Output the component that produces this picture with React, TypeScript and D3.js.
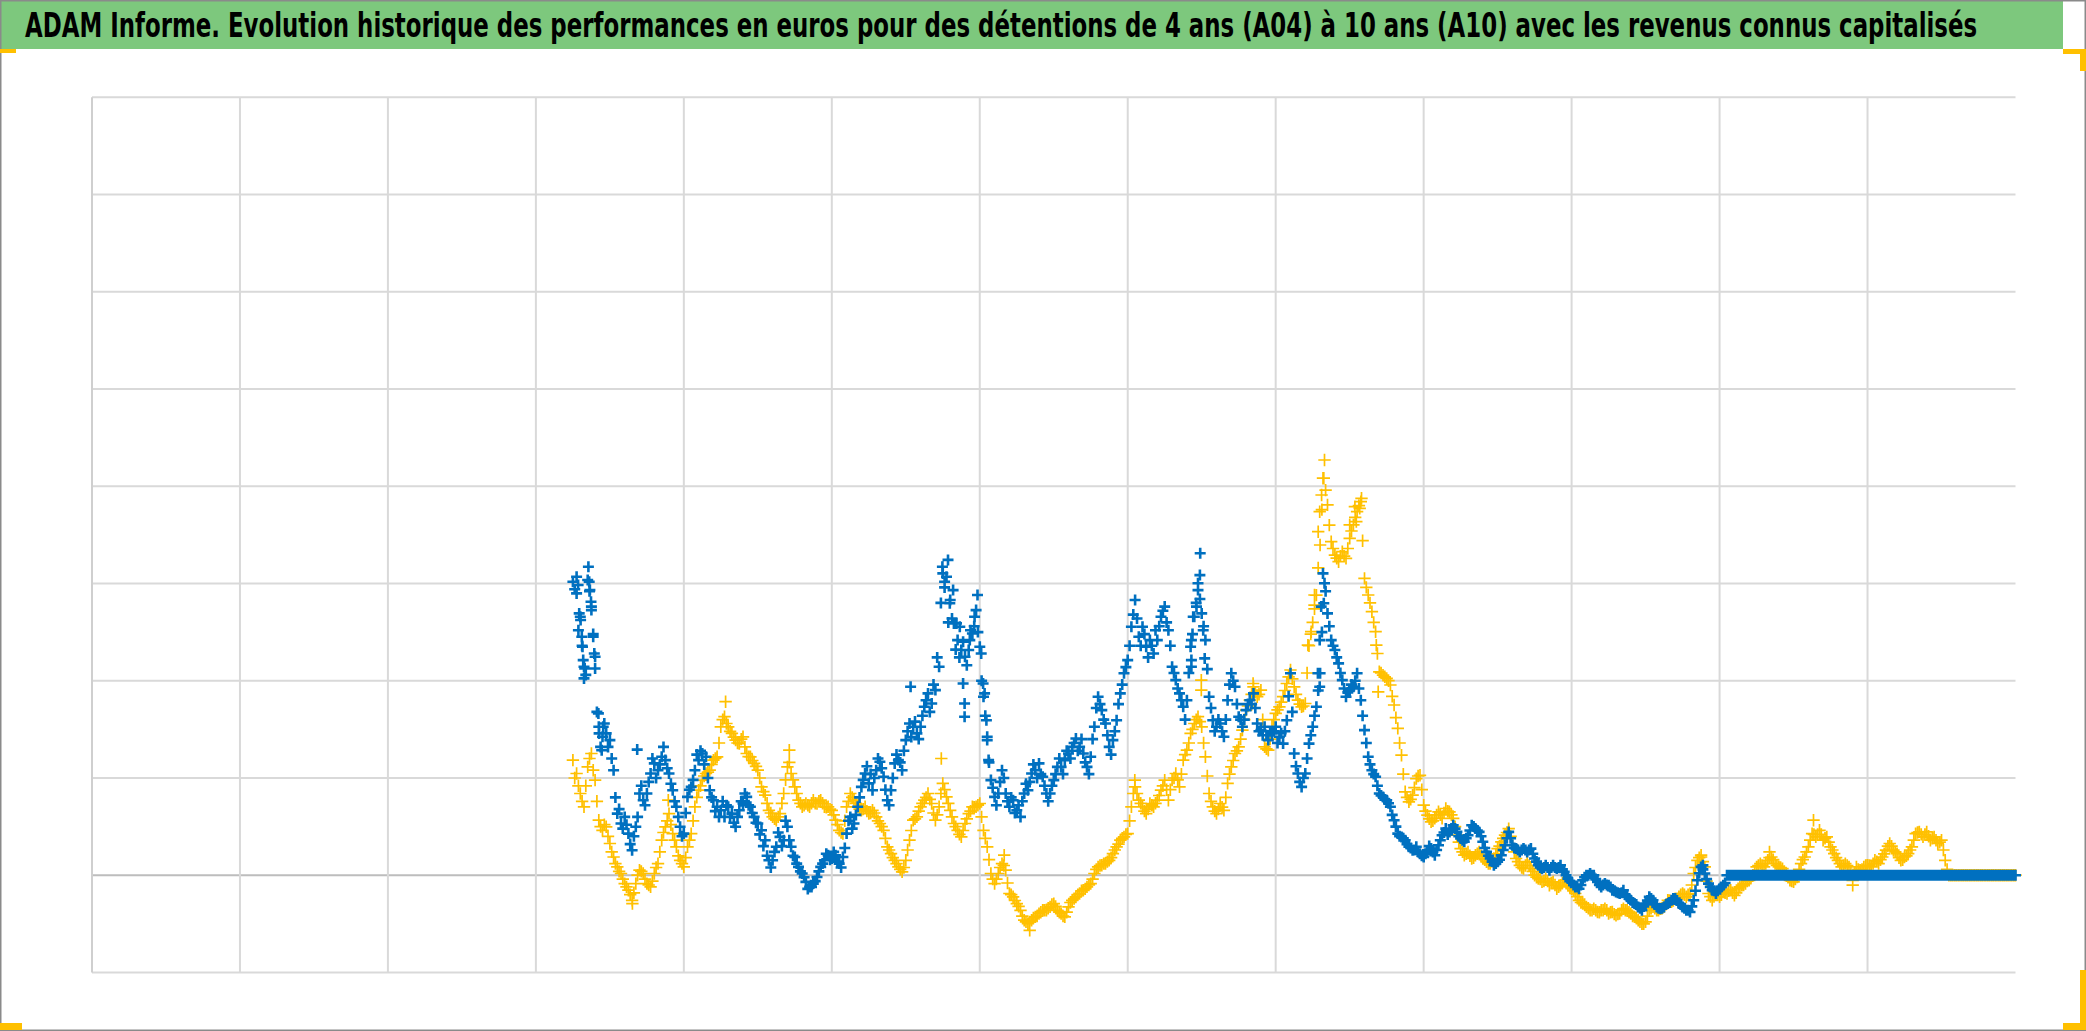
import React, { useLayoutEffect, useRef, useState } from 'react';
import * as d3 from 'd3';

const W = 2086;
const H = 1031;

// x: purchase date (years). Main readings every 0.1 year from START_YEAR,
// intermediate readings every 0.1 year from START_YEAR + 0.05.
const START_YEAR = 1985;
const STEP_YEARS = 0.1;
const xGridYears = d3.range(1972, 2021, 4);
const yGridValues = d3.range(-50, 401, 50);

const TITLE =
  'ADAM Informe. Evolution historique des performances en euros pour des détentions de 4 ans (A04) à 10 ans (A10) avec les revenus connus capitalisés';

// A04 (yellow) performance readings
const a04Values: number[] = [
  59.2, 52.3, 42.0, 35.2, 55.7, 62.6, 48.9, 28.3, 23.1, 24.9,
  16.3, 9.4, 4.3, 0.9, -4.3, -7.7, -12.9, -4.3, 2.6, 0.9,
  -4.3, -6.0, 0.9, 6.0, 18.0, 24.9, 31.7, 21.4, 14.6, 7.7,
  4.3, 14.6, 21.4, 35.2, 43.7, 48.9, 52.3, 54.0, 59.2, 60.9,
  76.3, 81.5, 76.3, 72.9, 69.5, 67.7, 71.2, 62.6, 60.9, 57.5,
  54.0, 45.4, 41.2, 33.4, 30.0, 28.3, 31.7, 42.0, 55.7, 52.3,
  45.4, 38.6, 35.2, 36.9, 35.2, 38.6, 36.9, 38.6, 35.2, 35.2,
  33.4, 28.3, 23.1, 21.4, 35.2, 42.0, 38.6, 35.2, 33.4, 35.2,
  31.7, 33.4, 30.0, 26.6, 23.1, 14.6, 11.1, 7.7, 4.3, 1.7,
  7.7, 18.0, 28.3, 30.0, 35.2, 38.6, 42.0, 36.9, 28.3, 35.2,
  47.2, 40.3, 33.4, 26.6, 23.1, 19.7, 26.6, 31.7, 35.2, 35.2,
  36.9, 23.1, 14.6, 0.9, -4.3, 0.9, 6.0, 2.6, -9.4, -11.1,
  -14.6, -18.0, -23.1, -24.9, -23.1, -21.4, -19.7, -18.0, -18.0, -16.3,
  -14.6, -18.0, -19.7, -21.4, -16.3, -12.9, -11.1, -9.4, -7.7, -6.0,
  -4.3, 0.9, 4.3, 5.1, 6.0, 7.7, 11.1, 14.6, 18.0, 19.7,
  21.4, 35.2, 45.4, 38.6, 35.2, 31.7, 36.9, 35.2, 38.6, 43.7,
  48.9, 38.6, 48.9, 52.3, 45.4, 59.2, 64.3, 72.9, 78.0, 81.5,
  76.3, 60.9, 42.0, 35.2, 31.7, 36.9, 33.4, 47.2, 55.7, 62.6,
  66.0, 74.6, 84.9, 90.0, 96.9, 91.8, 95.2, 66.0, 64.3, 76.3,
  83.2, 86.6, 91.8, 98.6, 105.5, 96.9, 90.0, 86.6, 88.3, 118.0,
  130.0, 144.0, 169.8, 204.1, 190.4, 171.5, 164.6, 161.2, 166.4, 162.9,
  173.2, 180.1, 186.9, 192.1, 152.6, 144.1, 135.5, 125.2, 104.6, 102.9,
  101.2, 97.8, 87.5, 75.5, 61.7, 42.9, 37.7, 41.2, 49.7, 51.4,
  36.0, 30.9, 27.4, 29.2, 32.6, 29.2, 34.3, 32.6, 29.2, 20.6,
  13.7, 10.3, 12.0, 8.6, 10.3, 12.0, 8.6, 6.9, 6.0, 8.6,
  13.7, 17.2, 20.6, 24.0, 15.4, 8.6, 5.1, 3.4, 6.9, 3.4,
  0.0, -1.7, -3.4, -1.7, -5.1, -3.4, -6.9, -5.1, -2.6, -5.1,
  -6.9, -9.4, -12.9, -14.6, -16.3, -18.0, -17.2, -18.9, -18.0, -17.2,
  -19.7, -18.9, -20.6, -19.7, -17.2, -18.0, -19.7, -21.4, -23.1, -24.9,
  -24.0, -18.0, -16.3, -18.0, -17.2, -16.3, -12.9, -13.7, -12.0, -11.1,
  -9.4, -11.1, -9.4, 0.9, 7.7, 9.4, 4.3, -9.4, -12.9, -9.4,
  -11.1, -8.6, -9.4, -7.7, -10.3, -6.9, -5.1, -4.3, -2.6, 0.0,
  4.3, 6.0, 4.3, 7.7, 9.4, 6.0, 4.3, 3.4, 0.9, -2.6,
  -3.4, -0.9, 6.0, 9.4, 14.6, 21.4, 19.7, 23.1, 18.0, 19.7,
  14.6, 11.1, 7.7, 4.3, 6.0, 4.3, -2.6, 4.3, 2.6, 4.3,
  5.1, 4.3, 7.7, 6.0, 9.4, 12.9, 16.3, 12.9, 11.1, 7.7,
  9.4, 11.1, 14.6, 21.4, 22.3, 19.7, 22.3, 18.0, 19.7, 16.3,
  18.0, 7.7, 0, 0, 0, 0, 0, 0, 0, 0,
  0, 0, 0, 0, 0, 0, 0, 0, 0, 0,
  0,
];

// A04 intermediate readings (half a step later)
const a04MidValues: number[] = [
  50, 46, 38, 46, 60, 54, 38, 25, 26, 20,
  12, 6, 2, -2, -6, -10, -9, 0, 2, -2,
  -5, -3, 4, 12, 22, 28, 26, 18, 10, 6,
  9, 18, 28, 40, 46, 51, 53, 57, 60, 68,
  80, 78, 74, 71, 68, 70, 66, 61, 59, 56,
  50, 43, 37, 32, 29, 30, 37, 49, 58, 49,
  42, 37, 36, 36, 37, 37, 38, 37, 35, 34,
  31, 26, 22, 28, 38, 40, 37, 34, 34, 33,
  32, 32, 28, 25, 19, 13, 9, 6, 3, 4,
  13, 23, 29, 33, 37, 40, 39, 32, 31, 42,
  44, 37, 30, 25, 21, 23, 29, 33, 35, 36,
  30, 19, 8, -2, -2, 4, 5, -4, -10, -13,
  -16, -21, -24, -24, -22, -21, -19, -18, -17, -15,
  -16, -19, -21, -19, -14, -12, -10, -8, -7, -5,
  -2, 3, 5, 6, 7, 9, 13, 16, 19, 21,
  28, 42, 42, 37, 33, 34, 36, 37, 41, 46,
  44, 44, 50, 49, 52, 62, 68, 75, 80, 79,
  68, 51, 38, 33, 34, 35, 40, 52, 59, 64,
  70, 80, 87, 93, 94, 93, 80, 65, 70, 80,
  85, 89, 95, 102, 101, 93, 88, 87, 104, 124,
  137, 158, 188, 198, 180, 168, 163, 164, 164, 168,
  177, 184, 190, 172, 148, 140, 130, 114, 104, 102,
  100, 92, 81, 68, 52, 40, 39, 45, 51, 44,
  33, 29, 28, 31, 31, 32, 33, 31, 25, 17,
  12, 11, 10, 9, 11, 10, 8, 6, 7, 11,
  15, 19, 22, 20, 12, 7, 4, 5, 5, 2,
  -1, -2, -3, -3, -4, -5, -6, -4, -4, -6,
  -8, -11, -14, -15, -17, -18, -18, -19, -18, -18,
  -19, -20, -20, -18, -18, -19, -21, -22, -24, -25,
  -21, -17, -17, -18, -17, -15, -13, -13, -12, -10,
  -10, -10, -5, 4, 9, 7, -3, -11, -11, -10,
  -10, -9, -8, -9, -9, -6, -5, -3, -1, 2,
  5, 5, 6, 9, 8, 5, 4, 2, -1, -3,
  -2, 3, 8, 12, 18, 21, 21, 21, 19, 17,
  13, 9, 6, 5, 5, 1, 1, 3, 3, 5,
  5, 6, 7, 8, 11, 15, 15, 12, 9, 8,
  10, 13, 18, 22, 21, 21, 20, 19, 18, 17,
  13, 3, 0, 0, 0, 0, 0, 0, 0, 0,
  0, 0, 0, 0, 0, 0, 0, 0, 0, 0,
];

// A10 (blue) performance readings
const a10Values: number[] = [
  150.9, 144.9, 132.9, 107.2, 151.8, 138.1, 112.3, 76.3, 71.2, 72.9,
  69.5, 54.0, 31.7, 26.6, 30.0, 21.4, 12.9, 24.9, 42.0, 38.6,
  42.0, 52.3, 57.5, 54.0, 60.9, 59.2, 52.3, 43.7, 35.2, 24.9,
  21.4, 40.3, 45.4, 54.0, 59.2, 62.6, 60.9, 43.7, 38.6, 35.2,
  33.4, 30.0, 35.2, 31.7, 24.9, 33.4, 36.9, 40.3, 35.2, 30.0,
  26.6, 23.1, 18.0, 7.7, 7.7, 14.6, 19.7, 18.0, 24.9, 14.6,
  9.4, 4.3, 0.9, -3.4, -6.0, -4.3, -0.9, 4.3, 7.7, 10.3,
  8.6, 10.3, 6.0, 9.4, 21.4, 30.0, 26.6, 35.2, 45.4, 52.3,
  47.2, 43.7, 54.0, 58.3, 50.6, 38.6, 43.7, 57.5, 59.2, 54.0,
  69.5, 78.0, 76.3, 72.9, 76.3, 86.6, 93.5, 88.3, 95.2, 107.2,
  155.2, 153.5, 141.5, 129.5, 120.9, 115.8, 112.3, 115.8, 124.3, 136.3,
  117.5, 91.8, 71.2, 48.9, 40.3, 42.0, 54.0, 42.0, 35.2, 38.6,
  33.4, 30.0, 42.0, 43.7, 52.3, 54.0, 57.5, 50.6, 42.0, 42.0,
  48.9, 55.7, 55.7, 59.2, 62.6, 66.0, 70.3, 66.0, 62.6, 55.7,
  60.9, 76.3, 91.8, 84.9, 78.0, 66.0, 69.5, 79.7, 93.5, 103.8,
  110.6, 127.8, 141.5, 122.6, 127.8, 117.5, 120.9, 114.0, 120.9, 132.9,
  138.1, 126.0, 107.2, 100.3, 93.5, 86.6, 90.0, 117.5, 132.9, 146.6,
  134.6, 120.9, 91.8, 79.7, 76.3, 78.0, 71.2, 90.0, 103.8, 96.9,
  81.5, 76.3, 84.9, 90.0, 93.5, 78.0, 74.6, 76.3, 69.5, 72.9,
  76.3, 71.2, 67.7, 79.7, 103.8, 62.6, 52.3, 45.4, 52.3, 67.7,
  76.3, 86.6, 103.8, 139.8, 134.6, 120.9, 115.8, 108.9, 100.3, 91.8,
  95.2, 96.9, 103.8, 90.0, 74.6, 60.9, 54.0, 50.6, 42.0, 40.3,
  38.6, 35.2, 28.3, 21.4, 19.7, 18.0, 14.6, 12.9, 14.6, 11.1,
  9.4, 12.9, 13.7, 10.3, 15.4, 20.6, 24.0, 22.3, 25.7, 22.3,
  18.9, 17.2, 20.6, 25.7, 24.0, 22.3, 17.2, 12.0, 8.6, 5.1,
  6.9, 10.3, 15.4, 22.3, 15.4, 13.7, 12.0, 13.7, 12.0, 13.7,
  8.6, 5.1, 3.4, 5.1, 2.6, 5.1, 3.4, 5.1, 1.7, -1.7,
  -3.4, -6.0, -6.9, -2.6, 0.0, 0.9, 0.0, -3.4, -6.0, -4.3,
  -5.1, -7.7, -8.6, -9.4, -7.7, -11.1, -12.9, -14.6, -16.3, -18.0,
  -14.6, -11.1, -12.9, -16.3, -17.2, -16.3, -14.6, -12.9, -12.0, -14.6,
  -16.3, -18.0, -18.9, -12.9, -2.6, 4.3, 0.9, -4.3, -7.7, -9.4,
  -6.9, -5.1, 0, 0, 0, 0, 0, 0, 0, 0,
  0, 0, 0, 0, 0, 0, 0, 0, 0, 0,
  0, 0, 0, 0, 0, 0, 0, 0, 0, 0,
  0, 0, 0, 0, 0, 0, 0, 0, 0, 0,
  0, 0, 0, 0, 0, 0, 0, 0, 0, 0,
  0, 0, 0, 0, 0, 0, 0, 0, 0, 0,
  0, 0, 0, 0, 0, 0, 0, 0, 0, 0,
  0, 0, 0, 0, 0, 0, 0, 0, 0, 0,
  0,
];

// A10 intermediate readings (half a step later)
const a10MidValues: number[] = [
  147, 126, 118, 103, 146, 124, 84, 66, 78, 66,
  60, 40, 34, 24, 26, 16, 20, 30, 46, 36,
  48, 60, 50, 57, 66, 55, 47, 38, 30, 20,
  32, 44, 49, 62, 64, 57, 50, 40, 33, 30,
  38, 36, 30, 27, 30, 38, 42, 36, 32, 27,
  21, 15, 10, 4, 12, 22, 15, 28, 18, 10,
  6, 2, -1, -7, -6, -3, 2, 6, 11, 8,
  12, 7, 4, 14, 28, 24, 31, 40, 49, 56,
  52, 50, 60, 55, 44, 36, 50, 62, 58, 64,
  74, 71, 79, 70, 82, 90, 84, 98, 112, 140,
  148, 130, 132, 116, 112, 120, 108, 126, 128, 125,
  100, 82, 58, 45, 36, 48, 50, 38, 40, 32,
  36, 38, 47, 48, 57, 50, 52, 46, 38, 46,
  52, 60, 52, 64, 60, 68, 64, 70, 58, 52,
  70, 86, 88, 80, 72, 62, 74, 88, 98, 107,
  118, 134, 132, 118, 124, 112, 118, 126, 128, 136,
  130, 118, 104, 96, 90, 80, 104, 124, 140, 142,
  128, 106, 86, 74, 80, 74, 80, 98, 100, 88,
  80, 80, 88, 88, 86, 74, 72, 72, 74, 74,
  68, 73, 74, 92, 84, 56, 48, 50, 60, 72,
  82, 95, 125, 146, 128, 118, 112, 104, 96, 94,
  98, 100, 96, 82, 68, 57, 52, 46, 41, 39,
  37, 31, 25, 20, 19, 16, 14, 13, 12, 10,
  11, 15, 12, 13, 18, 22, 21, 24, 24, 20,
  18, 19, 23, 25, 23, 20, 14, 10, 7, 6,
  8, 13, 19, 19, 14, 13, 13, 13, 13, 11,
  7, 4, 4, 4, 4, 4, 4, 3, 0, -3,
  -5, -6, -5, -1, 0, 0, -2, -5, -5, -5,
  -6, -8, -9, -9, -10, -12, -14, -15, -17, -16,
  -13, -12, -15, -17, -17, -15, -14, -12, -13, -15,
  -17, -18, -16, -8, 1, 3, -2, -6, -8, -8,
  -6, -4, 0, 0, 0, 0, 0, 0, 0, 0,
  0, 0, 0, 0, 0, 0, 0, 0, 0, 0,
  0, 0, 0, 0, 0, 0, 0, 0, 0, 0,
  0, 0, 0, 0, 0, 0, 0, 0, 0, 0,
  0, 0, 0, 0, 0, 0, 0, 0, 0, 0,
  0, 0, 0, 0, 0, 0, 0, 0, 0, 0,
  0, 0, 0, 0, 0, 0, 0, 0, 0, 0,
  0, 0, 0, 0, 0, 0, 0, 0, 0, 0,
];

// extra daily readings in the most volatile stretches: [year, value]
const a04Extra: [number, number][] = [
  [1986.61, -14.6], [1987.58, 38.6], [1989.13, 89.2], [1990.85, 64.3],
  [1994.96, 60.0], [1996.66, 10.3], [1997.35, -28.3], [2000.19, 48.9],
  [2001.99, 100.3], [2001.99, 95.2], [2003.39, 98.6], [2005.32, 213.5],
  [2005.28, 204.1], [2005.24, 195.5], [2005.19, 186.9], [2005.15, 176.6],
  [2006.32, 193.8], [2006.27, 188.6], [2006.14, 189.5], [2006.18, 181.8],
  [2006.0, 180.1], [2005.05, 144.1], [2005.05, 138.9], [2004.96, 125.2],
  [2004.87, 118.3], [2006.72, 118.3], [2006.77, 94.3], [2015.5, 10.3],
  [2017.35, 12.0], [2018.54, 28.3], [2019.6, -5.1],
];

const a10Extra: [number, number][] = [
  [1985.1, 153.5], [1985.1, 144.9], [1985.14, 149.2], [1985.17, 134.6],
  [1985.21, 131.2], [1985.24, 122.6], [1985.26, 117.5], [1985.28, 110.6],
  [1985.3, 101.2], [1985.32, 106.3], [1985.42, 158.6], [1985.44, 150.9],
  [1985.46, 146.6], [1985.49, 140.6], [1985.5, 136.3], [1985.55, 122.6],
  [1985.58, 114.0], [1985.6, 106.3], [1985.69, 83.2], [1985.71, 72.9],
  [1985.78, 64.3], [1985.82, 76.3], [1986.74, 64.6],
  [1994.13, 96.9], [1994.99, 158.6], [1995.14, 162.1], [1995.05, 150.9],
  [1995.19, 139.8], [1995.28, 146.6], [1995.37, 129.5], [1995.46, 127.8],
  [1995.55, 98.6], [1995.59, 88.3], [1995.59, 81.5], [1995.73, 120.9],
  [1995.86, 132.9], [1995.94, 144.1], [1996.04, 114.0], [1996.09, 98.6],
  [1996.13, 93.5], [1996.18, 79.7], [1996.2, 69.5], [1996.24, 59.2],
  [2001.96, 165.5], [2001.95, 154.3], [2001.9, 150.1], [2001.77, 132.9],
  [2001.72, 120.9], [2001.72, 110.6], [2001.72, 107.2], [2002.08, 111.5],
  [2002.04, 126.0], [2001.86, 138.1],
  [2005.28, 155.2], [2005.32, 150.1], [2005.23, 138.1], [2005.19, 120.9],
  [2005.14, 103.8], [2005.19, 96.9], [2015.55, 5.1],
];

const PLOT = { left: 92, right: 2015.5, top: 97.2, bottom: 972.5 };

function toPoints(values: number[], mids: number[], extra: [number, number][]): [number, number][] {
  const main: [number, number][] = values.map((v, i) => [START_YEAR + i * STEP_YEARS, v]);
  const mid: [number, number][] = mids.map((v, i) => [START_YEAR + STEP_YEARS / 2 + i * STEP_YEARS, v]);
  return main.concat(mid, extra);
}

function crossPath(
  pts: [number, number][],
  x: d3.ScaleLinear<number, number>,
  y: d3.ScaleLinear<number, number>,
  r: number
): string {
  return pts
    .map(([t, v]) => {
      const px = x(t);
      const py = y(v);
      return `M${(px - r).toFixed(1)},${py.toFixed(1)}H${(px + r).toFixed(1)}M${px.toFixed(1)},${(py - r).toFixed(1)}V${(py + r).toFixed(1)}`;
    })
    .join('');
}

const TITLE_X = 25;
const TITLE_WIDTH = 1953;

export default function App() {
  const titleRef = useRef<SVGTextElement | null>(null);
  const [titleScale, setTitleScale] = useState(1);

  useLayoutEffect(() => {
    const el = titleRef.current;
    if (el) {
      const natural = el.getComputedTextLength();
      if (natural > 0) setTitleScale(TITLE_WIDTH / natural);
    }
  }, []);

  const x = d3.scaleLinear().domain([1972, 2024]).range([PLOT.left, PLOT.right]);
  const y = d3.scaleLinear().domain([-50, 400]).range([PLOT.bottom, PLOT.top]);

  const yellowPath = crossPath(toPoints(a04Values, a04MidValues, a04Extra), x, y, 6.2);
  const bluePath = crossPath(toPoints(a10Values, a10MidValues, a10Extra), x, y, 5.5);

  const yellowMark = '#FFC000';
  const border = '#8a8a8a';

  return (
    <svg
      width={W}
      height={H}
      viewBox={`0 0 ${W} ${H}`}
      style={{ position: 'absolute', left: 0, top: 0, background: '#ffffff' }}
    >
      <rect x={0} y={0} width={W} height={H} fill="#ffffff" />
      {/* title band */}
      <rect x={0} y={0} width={2063} height={49} fill="#7dc87d" />
      <g transform={`translate(${TITLE_X},37) scale(${titleScale},1)`}>
        <text
          ref={titleRef}
          x={0}
          y={0}
          fontFamily="'Liberation Sans Narrow','DejaVu Sans Condensed','Arial Narrow',sans-serif"
          fontWeight="bold"
          fontSize={33}
          fill="#000000"
        >
          {TITLE}
        </text>
      </g>

      {/* grid */}
      <g>
        {yGridValues.map((v) => (
          <line
            key={`h${v}`}
            x1={PLOT.left}
            x2={PLOT.right}
            y1={y(v)}
            y2={y(v)}
            stroke={v === 0 ? '#bdbdbd' : '#d9d9d9'}
            strokeWidth={2}
          />
        ))}
        {xGridYears.map((t) => (
          <line
            key={`v${t}`}
            x1={x(t)}
            x2={x(t)}
            y1={PLOT.top}
            y2={PLOT.bottom}
            stroke={t === 1972 ? '#cfcfcf' : '#d9d9d9'}
            strokeWidth={2}
          />
        ))}
      </g>

      {/* series */}
      <path d={yellowPath} stroke="#FFC000" strokeWidth={1.7} fill="none" />
      <path d={bluePath} stroke="#0070C0" strokeWidth={2.6} fill="none" />

      {/* frame and corner handles */}
      <rect x={0.75} y={0.75} width={W - 1.5} height={H - 1.5} fill="none" stroke={border} strokeWidth={1.5} />
      <rect x={0} y={49} width={16} height={4} fill={yellowMark} />
      <rect x={2063} y={49} width={23} height={5} fill={yellowMark} />
      <rect x={2080} y={49} width={6} height={22} fill={yellowMark} />
      <rect x={0} y={1023} width={22} height={7} fill={yellowMark} />
      <rect x={2063} y={1023} width={23} height={7} fill={yellowMark} />
      <rect x={2080} y={970} width={6} height={60} fill={yellowMark} />
    </svg>
  );
}
